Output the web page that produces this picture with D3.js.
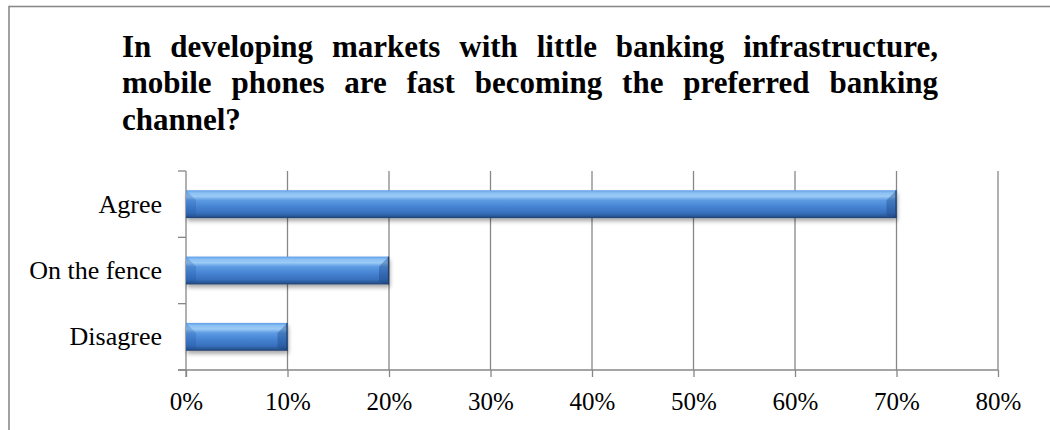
<!DOCTYPE html>
<html>
<head>
<meta charset="utf-8">
<script src="https://cdn.jsdelivr.net/npm/d3@7"></script>
<style>
  html, body { margin: 0; padding: 0; background: #fff; }
  svg { display: block; }
</style>
</head>
<body>
<svg id="chart" width="1050" height="430"></svg>
<script>
// Survey responses
const categories = ["Agree", "On the fence", "Disagree"];
const shares = [0.70, 0.20, 0.10];
const tickValues = [0, 0.1, 0.2, 0.3, 0.4, 0.5, 0.6, 0.7, 0.8];
const titleLines = [
  "In developing markets with little banking infrastructure,",
  "mobile phones are fast becoming the preferred banking",
  "channel?"
];

const svg = d3.select("#chart");
const serif = "'Liberation Serif', 'Times New Roman', serif";
const axisColor = "#878787";

const plot = { left: 186, right: 998, top: 171, bottom: 370 };

const x = d3.scaleLinear().domain([0, 0.8]).range([plot.left, plot.right]);
const gap = 0.58;
const y = d3.scaleBand().domain(categories)
  .range([plot.top, plot.bottom])
  .paddingInner(gap).paddingOuter(gap / 2);

// Outer frame
svg.append("rect")
  .attr("x", 9).attr("y", 6.5)
  .attr("width", 1200).attr("height", 600)
  .attr("fill", "none").attr("stroke", "#8a8a8a").attr("stroke-width", 1.6);

// Title, justified across the first lines
const title = svg.append("g").attr("font-family", serif)
  .attr("font-weight", "bold").attr("font-size", 31).attr("fill", "#000");
const titleLeft = 122, titleRight = 938, titleTop = 57, titleStep = 36.4;
titleLines.forEach((line, i) => {
  const words = line.split(" ");
  const yy = titleTop + i * titleStep;
  const nodes = words.map(w => title.append("text").attr("y", yy).text(w));
  const widths = nodes.map(n => n.node().getComputedTextLength());
  const last = i === titleLines.length - 1;
  const space = (last || words.length < 2) ? 8
    : (titleRight - titleLeft - d3.sum(widths)) / (words.length - 1);
  let cx = titleLeft;
  nodes.forEach((n, j) => { n.attr("x", cx); cx += widths[j] + space; });
});

// Defs: bar gradient and soft shadow
const defs = svg.append("defs");
const grad = defs.append("linearGradient").attr("id", "barFill")
  .attr("x1", 0).attr("y1", 0).attr("x2", 0).attr("y2", 1);
[[0, "#5f9de6"], [0.1, "#8cc1f3"], [0.22, "#9bcaf6"], [0.36, "#5d9be3"],
 [0.6, "#4583d2"], [0.82, "#3870bd"], [0.92, "#2a5b9c"], [1, "#213f6c"]]
  .forEach(([o, c]) => grad.append("stop").attr("offset", o).attr("stop-color", c));

const shadow = defs.append("filter").attr("id", "barShadow")
  .attr("x", "-5%").attr("y", "-30%").attr("width", "110%").attr("height", "180%");
shadow.append("feGaussianBlur").attr("in", "SourceAlpha").attr("stdDeviation", 2.2).attr("result", "b");
shadow.append("feOffset").attr("in", "b").attr("dx", 1).attr("dy", 3).attr("result", "o");
shadow.append("feComponentTransfer").attr("in", "o").attr("result", "s")
  .append("feFuncA").attr("type", "linear").attr("slope", 0.35);
const merge = shadow.append("feMerge");
merge.append("feMergeNode").attr("in", "s");
merge.append("feMergeNode").attr("in", "SourceGraphic");

// Gridlines
svg.append("g").selectAll("line").data(tickValues.slice(1)).join("line")
  .attr("x1", d => x(d)).attr("x2", d => x(d))
  .attr("y1", plot.top).attr("y2", plot.bottom)
  .attr("stroke", axisColor).attr("stroke-width", 1.3);

// Bottom axis
const xAxis = svg.append("g").attr("transform", `translate(0,${plot.bottom})`)
  .call(d3.axisBottom(x).tickValues(tickValues).tickFormat(d3.format(".0%"))
    .tickSizeInner(7).tickSizeOuter(0));
xAxis.select(".domain").remove();
xAxis.selectAll(".tick line").attr("stroke", axisColor).attr("stroke-width", 1.3);
xAxis.selectAll(".tick text")
  .attr("y", 40).attr("dy", 0)
  .attr("font-family", serif).attr("font-size", 25).attr("fill", "#000");
xAxis.append("line").attr("x1", plot.left - 8).attr("x2", plot.right)
  .attr("stroke", axisColor).attr("stroke-width", 1.3);

// Left category axis with ticks between categories
const step = y.step();
const boundaries = categories.map(c => y(c) - step * gap / 2).concat([plot.bottom]);
const yAxis = svg.append("g");
yAxis.append("line").attr("x1", plot.left).attr("x2", plot.left)
  .attr("y1", plot.top).attr("y2", plot.bottom + 7)
  .attr("stroke", axisColor).attr("stroke-width", 1.3);
yAxis.selectAll(".sep").data(boundaries).join("line").attr("class", "sep")
  .attr("x1", plot.left - 8).attr("x2", plot.left)
  .attr("y1", d => d).attr("y2", d => d)
  .attr("stroke", axisColor).attr("stroke-width", 1.3);
yAxis.selectAll("text").data(categories).join("text")
  .attr("x", 162).attr("y", d => y(d) + y.bandwidth() / 2).attr("dy", "0.33em")
  .attr("text-anchor", "end").attr("font-family", serif).attr("font-size", 26)
  .attr("fill", "#000").text(d => d);

// Bars
const data = categories.map((c, i) => ({ c, v: shares[i] }));
const bars = svg.append("g").selectAll("g").data(data).join("g");
bars.append("rect")
  .attr("x", x(0)).attr("y", d => y(d.c))
  .attr("width", d => x(d.v) - x(0)).attr("height", y.bandwidth())
  .attr("fill", "url(#barFill)").attr("filter", "url(#barShadow)");
const bev = 10;
// left facet
bars.append("path")
  .attr("d", d => {
    const x0 = x(0), y0 = y(d.c), y1 = y0 + y.bandwidth();
    return `M${x0},${y0}L${x0 + bev},${y0 + bev}L${x0 + bev},${y1 - 3}L${x0},${y1}Z`;
  })
  .attr("fill", "#1d4f96").attr("opacity", 0.22);
// right facet
bars.append("path")
  .attr("d", d => {
    const x1 = x(d.v), y0 = y(d.c), y1 = y0 + y.bandwidth();
    return `M${x1},${y0}L${x1 - bev},${y0 + bev}L${x1 - bev},${y1 - 3}L${x1},${y1}Z`;
  })
  .attr("fill", "#173f7a").attr("opacity", 0.35);
bars.append("line")
  .attr("x1", d => x(d.v) - 0.5).attr("x2", d => x(d.v) - 0.5)
  .attr("y1", d => y(d.c)).attr("y2", d => y(d.c) + y.bandwidth())
  .attr("stroke", "#1f4070").attr("stroke-width", 1.2);
</script>
</body>
</html>
